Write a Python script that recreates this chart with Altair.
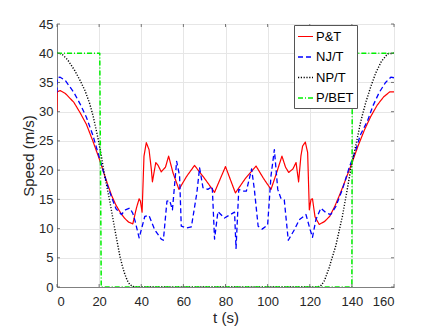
import altair as alt
import pandas as pd

series = ["P&T", "NJ/T", "NP/T", "P/BET"]
colors = ["#ff0000", "#0000ff", "#000000", "#00f000"]
dashes = [[1, 0], [5, 3], [1.2, 1.6], [5, 2, 1, 2]]
widths = [1.2, 1.5, 1.0, 1.2]

t_pt = [0, 0.1, 1.5, 4, 8, 11, 14, 17, 20, 22, 24, 26, 28, 30, 32,
        34, 36, 37.7, 39, 39.6, 40.4, 41.3, 42.4, 43.7, 44.8,
        45.3, 46.9, 48, 49.5, 51.5, 53, 55.1, 57.9, 61.5, 65.3,
        70, 74.8, 77.5, 80, 82.5, 84.7, 89.5, 94.5, 98, 101.6,
        104.5, 106.8, 108.5, 110, 112, 113.5, 114.7, 115.8, 116.6, 117.9,
        119, 119.8, 120.6, 121.3, 122.5, 124.5, 127, 129.5, 132, 134,
        136, 138, 140, 143, 146, 149, 152, 155, 158, 160]
v_pt = [30, 33.4, 33.6, 33.1, 31.6, 29.8, 27.8, 25, 22, 19.8, 17.6, 15.6, 14, 12.8, 11.8,
        11.1, 10.8, 13.5, 15.1, 14.7, 12.8, 22.4, 24.7, 23.5, 20.1,
        18, 21.3, 20.8, 19.7, 20.5, 22.4, 19.5, 16.7, 18.9, 20.8,
        18.6, 16.2, 18.5, 20.6, 18.2, 16.1, 18.6, 20.7, 18.6, 16.7,
        19.8, 22.4, 20.5, 19.6, 20.2, 21.3, 18, 22.4, 24.1, 24.8,
        23, 13.2, 15, 15.1, 12, 10.7, 11.2, 12.1, 13.9, 15.6,
        17.4, 19.3, 21.2, 24.2, 26.9, 29.2, 31.1, 32.5, 33.4, 33.4]

t_nj = [0, 0.1, 1.5, 4, 8, 11, 14, 17, 20, 22, 24, 26, 28, 30.6, 32.5,
        34.6, 36, 37, 39, 41.7, 43.7, 46.4, 49.5, 50.5, 52.2,
        53.5, 54.8, 56.8, 58.2, 59, 61.4, 63.8, 66.4, 67.7, 69.3,
        71.6, 73.7, 74.8, 76.4, 79.5, 82.3, 84.3, 85, 86.3, 88.2,
        89.9, 92.4, 93.7, 95.5, 97.4, 100, 101.6, 103.2, 104.8, 106.3,
        107.9, 109.8, 112.7, 115, 118.2, 120.2, 121.3, 122.9, 125.3, 127.7,
        130, 132.4, 135.5, 138.7, 141.9, 144, 147.4, 150, 153, 156, 158.5, 160]
v_nj = [33.3, 35.8, 35.9, 35.3, 33.3, 31.3, 29, 26, 22.3, 19.8, 17.3, 15.3, 13.4, 12.4, 13.2,
        13.5, 12.6, 11.4, 8.4, 12.1, 12.2, 9.8, 8.2, 8.0, 14.7,
        14.8, 13.2, 21.5, 19, 10.4, 10.1, 10.3, 16.1, 20.4, 17,
        16.7, 17.2, 8.2, 12.9, 11.8, 12.4, 12.8, 6.6, 16.7, 16.4,
        16.4, 20.2, 16.7, 10.4, 9.9, 10.6, 19, 23.5, 16.7, 15.2,
        14.9, 8.0, 9.8, 11.5, 12.4, 9.8, 8.5, 11.5, 13.5, 12.7,
        12.4, 13.8, 16.7, 20.4, 23.5, 26, 28.4, 31, 33.3, 35, 35.9, 35.8]

t_np = [0, 2.2, 5, 8.5, 11, 13.3, 15.5, 17.2, 19.6, 21.1, 22.7, 25.1, 27.5, 29.8, 31,
        32.2, 33.4, 34.6, 36, 38, 122, 124, 125.5, 127, 129.2, 132.4, 135.5, 137.9, 139.5,
        141.9, 144.2, 146.6, 149, 151.3, 154, 157, 160]
v_np = [40, 39.9, 38.9, 37, 35.3, 33.6, 31.4, 29.2, 25.2, 22.3, 18.9, 14.6, 9.8, 5.4, 3.6,
        2.2, 1.1, 0.4, 0.1, 0, 0, 0.05, 0.3, 1.1, 3.3, 7.1, 12.1, 16.9, 20.2,
        24.3, 28.3, 31.6, 34.3, 36.6, 38.6, 39.9, 40]

t_bet = [0, 20.3, 21.0, 140, 140.2, 160]
v_bet = [40, 40, 0, 0, 40, 40]

x_ticks = [0, 20, 40, 60, 80, 100, 120, 140, 160]
y_ticks = [0, 5, 10, 15, 20, 25, 30, 35, 40, 45]

frames = []
for name, t, v in zip(series, [t_pt, t_nj, t_np, t_bet], [v_pt, v_nj, v_np, v_bet]):
    frames.append(pd.DataFrame({"t": t, "v": v, "series": name, "i": range(len(t))}))
df = pd.concat(frames, ignore_index=True)

W, H = 337, 263
xs = alt.Scale(domain=[0, 160], nice=False, zero=False)
ys = alt.Scale(domain=[0, 45], nice=False, zero=False)

x_axis = alt.Axis(values=x_ticks, title="t (s)", ticks=False, labelPadding=8,
                  titleY=35, titleBaseline="alphabetic")
y_axis = alt.Axis(values=y_ticks, title="Speed (m/s)", ticks=False, labelPadding=4,
                  titleX=-24, titleBaseline="alphabetic")

legend_cfg = dict(
    title=None, orient="none", legendX=237, legendY=1,
    fillColor="white", strokeColor="#555555", padding=3,
    symbolType="stroke", symbolSize=225, symbolStrokeWidth=1.3,
    labelFont="Liberation Sans", labelFontSize=13, labelColor="#000000",
    labelOffset=2, rowPadding=4.5,
)

lines = alt.Chart(df).mark_line(clip=True, strokeCap="butt", strokeJoin="round").encode(
    x=alt.X("t:Q", scale=xs, axis=x_axis),
    y=alt.Y("v:Q", scale=ys, axis=y_axis),
    color=alt.Color("series:N", scale=alt.Scale(domain=series, range=colors),
                    legend=alt.Legend(**legend_cfg)),
    strokeDash=alt.StrokeDash("series:N", scale=alt.Scale(domain=series, range=dashes),
                              legend=alt.Legend(**legend_cfg)),
    strokeWidth=alt.StrokeWidth("series:N", scale=alt.Scale(domain=series, range=widths),
                                legend=None),
    order="i:Q",
)

xt = pd.DataFrame({"t": x_ticks})
yt = pd.DataFrame({"v": y_ticks})
tick_color = "#555555"
xb = alt.Chart(xt).mark_rule(color=tick_color, strokeWidth=0.8).encode(
    x=alt.X("t:Q", scale=xs, axis=x_axis), y=alt.value(H), y2=alt.value(H - 3))
xtop = alt.Chart(xt).mark_rule(color=tick_color, strokeWidth=0.8).encode(
    x=alt.X("t:Q", scale=xs, axis=x_axis), y=alt.value(0), y2=alt.value(3))
yl = alt.Chart(yt).mark_rule(color=tick_color, strokeWidth=0.8).encode(
    y=alt.Y("v:Q", scale=ys, axis=y_axis), x=alt.value(0), x2=alt.value(3))
yr = alt.Chart(yt).mark_rule(color=tick_color, strokeWidth=0.8).encode(
    y=alt.Y("v:Q", scale=ys, axis=y_axis), x=alt.value(W), x2=alt.value(W - 3))

chart = alt.layer(lines, xb, xtop, yl, yr).properties(
    width=W, height=H,
    autosize=alt.AutoSizeParams(type="none"),
    padding={"left": 49, "top": 16, "right": 34, "bottom": 40},
    background="white",
).configure_view(
    stroke="#808080", strokeWidth=1,
).configure_axis(
    domainColor="#808080", domainWidth=1,
    gridColor="#e6e6e6", gridWidth=1,
    labelFont="Liberation Sans", labelFontSize=13, labelColor="#262626",
    titleFont="Liberation Sans", titleFontSize=15, titleColor="#262626", titleFontWeight="normal",
)

chart.save("out.html", embed_options={"renderer": "svg", "actions": False})
